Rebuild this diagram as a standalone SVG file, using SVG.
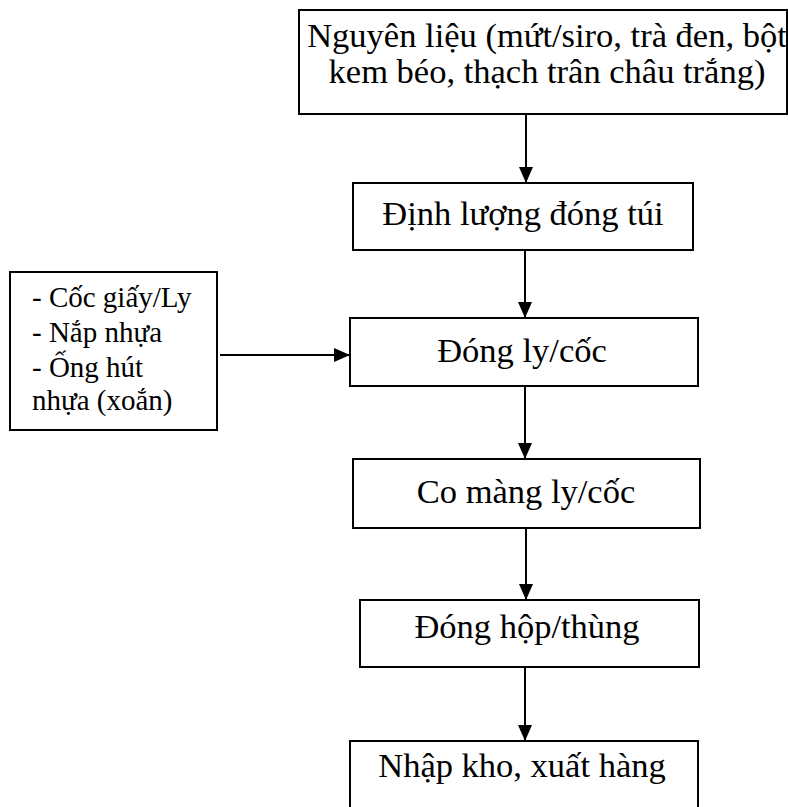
<svg xmlns="http://www.w3.org/2000/svg" width="788" height="807" viewBox="0 0 788 807">
  <style>
    .box { fill: #fff; stroke: #000; stroke-width: 2; }
    .lbl { font-family: "Liberation Serif", "Times New Roman", serif; font-size: 34.5px; fill: #000; text-anchor: middle; }
    .side { font-family: "Liberation Serif", "Times New Roman", serif; font-size: 29px; fill: #000; }
    .edge { stroke: #000; stroke-width: 2; fill: none; marker-end: url(#arrow); }
  </style>
  <defs>
    <marker id="arrow" viewBox="0 0 16 14" refX="16" refY="7" markerWidth="16" markerHeight="14" markerUnits="userSpaceOnUse" orient="auto">
      <path d="M0,0 L16,7 L0,14 Z" fill="#000"/>
    </marker>
  </defs>
  <rect width="788" height="807" fill="#fff"/>

  <g id="connectors">
    <line class="edge" x1="526" y1="115" x2="526" y2="183"/>
    <line class="edge" x1="525" y1="251" x2="525" y2="318"/>
    <line class="edge" x1="525" y1="387" x2="525" y2="459"/>
    <line class="edge" x1="526" y1="529" x2="526" y2="600"/>
    <line class="edge" x1="525" y1="668" x2="525" y2="741"/>
    <line class="edge" x1="220" y1="355" x2="350" y2="355"/>
  </g>

  <g id="nguyen-lieu">
    <rect class="box" x="299" y="10" width="488" height="104"/>
    <text class="lbl" x="547" y="47">Nguyên liệu (mứt/siro, trà đen, bột</text>
    <text class="lbl" x="547" y="83">kem béo, thạch trân châu trắng)</text>
  </g>

  <g id="dinh-luong">
    <rect class="box" x="353" y="183" width="340" height="67"/>
    <text class="lbl" x="523" y="225">Định lượng đóng túi</text>
  </g>

  <g id="bao-bi">
    <rect class="box" x="10" y="272" width="207" height="158"/>
    <text class="side" x="32" y="307">- Cốc giấy/Ly</text>
    <text class="side" x="32" y="342">- Nắp nhựa</text>
    <text class="side" x="32" y="377">- Ống hút</text>
    <text class="side" x="32" y="410">nhựa (xoắn)</text>
  </g>

  <g id="dong-ly">
    <rect class="box" x="350" y="318" width="348" height="68"/>
    <text class="lbl" x="522" y="362">Đóng ly/cốc</text>
  </g>

  <g id="co-mang">
    <rect class="box" x="353" y="459" width="347" height="69"/>
    <text class="lbl" x="526" y="503">Co màng ly/cốc</text>
  </g>

  <g id="dong-hop">
    <rect class="box" x="360" y="600" width="339" height="67"/>
    <text class="lbl" x="527" y="638">Đóng hộp/thùng</text>
  </g>

  <g id="nhap-kho">
    <rect class="box" x="350" y="741" width="348" height="80"/>
    <text class="lbl" x="522" y="777">Nhập kho, xuất hàng</text>
  </g>
</svg>
